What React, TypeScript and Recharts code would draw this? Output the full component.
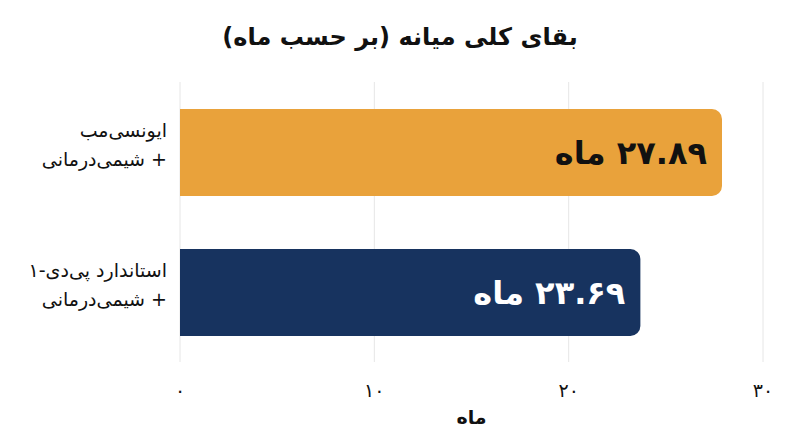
import { BarChart, Bar, XAxis, YAxis, CartesianGrid, Cell, LabelList } from "recharts";

const categories = ["ایونسی‌مب\n+ شیمی‌درمانی", "استاندارد پی‌دی-۱\n+ شیمی‌درمانی"];
const medianMonths = [27.89, 23.69];
const xTicks = [0, 10, 20, 30];
const barColors = ["#E9A23B", "#17335F"];
const labelColors = ["#111111", "#ffffff"];

const FONT = "'DejaVu Sans', sans-serif";

const data = categories.map((name, i) => ({ name, months: medianMonths[i] }));

// latin digits -> persian digits
const toFa = (v: number | string) =>
  String(v).replace(/\d/g, (d) => "۰۱۲۳۴۵۶۷۸۹"[+d]);

// html inside the svg so the rtl text gets normal bidi handling
function CategoryTick({ x, y, payload }: any) {
  const lines = String(payload.value).split("\n");
  return (
    <foreignObject x={x - 170} y={y - 36} width={165} height={64}>
      <div
        dir="rtl"
        style={{ fontFamily: FONT, fontSize: 19, lineHeight: "29px", color: "#111", textAlign: "right", whiteSpace: "nowrap" }}
      >
        {lines.map((l, i) => (
          <div key={i}>{l}</div>
        ))}
      </div>
    </foreignObject>
  );
}

function ValueTick({ x, y, payload }: any) {
  return (
    <text x={x} y={y + 20} textAnchor="middle" fontFamily={FONT} fontSize={19} fill="#111" dominantBaseline="central">
      {toFa(payload.value)}
    </text>
  );
}

function BarValue({ x, y, width, height, value, index }: any) {
  return (
    <text
      x={x + width - 15}
      y={y + height / 2}
      direction="rtl"
      textAnchor="start"
      dominantBaseline="central"
      fontFamily={FONT}
      fontSize={32}
      fontWeight="bold"
      fill={labelColors[index]}
    >
      {toFa(value) + " ماه"}
    </text>
  );
}

export default function App() {
  return (
    <div style={{ position: "relative", width: 800, height: 447, fontFamily: FONT, background: "#fff" }}>
      <style>{"body{margin:0}"}</style>
      <div
        dir="rtl"
        style={{
          position: "absolute",
          top: 21,
          left: 0,
          width: 800,
          textAlign: "center",
          fontSize: 24,
          fontWeight: "bold",
          color: "#111",
          lineHeight: "32px",
        }}
      >
        بقای کلی میانه (بر حسب ماه)
      </div>
      <BarChart
        width={800}
        height={447}
        data={data}
        layout="vertical"
        margin={{ top: 82, right: 37, bottom: 25, left: 10 }}
      >
        <CartesianGrid horizontal={false} stroke="#e6e6e6" />
        <XAxis
          type="number"
          domain={[0, 30]}
          ticks={xTicks}
          axisLine={false}
          tickLine={false}
          height={60}
          tick={<ValueTick />}
          label={{ value: "ماه", position: "insideBottom", offset: -2, fontSize: 19, fontWeight: "bold", fill: "#111", fontFamily: FONT }}
        />
        <YAxis type="category" dataKey="name" width={170} axisLine={false} tickLine={false} tick={<CategoryTick />} />
        <Bar dataKey="months" barSize={87} radius={[0, 10, 10, 0]} isAnimationActive={false}>
          {data.map((_, i) => (
            <Cell key={i} fill={barColors[i]} />
          ))}
          <LabelList dataKey="months" content={<BarValue />} />
        </Bar>
      </BarChart>
    </div>
  );
}
